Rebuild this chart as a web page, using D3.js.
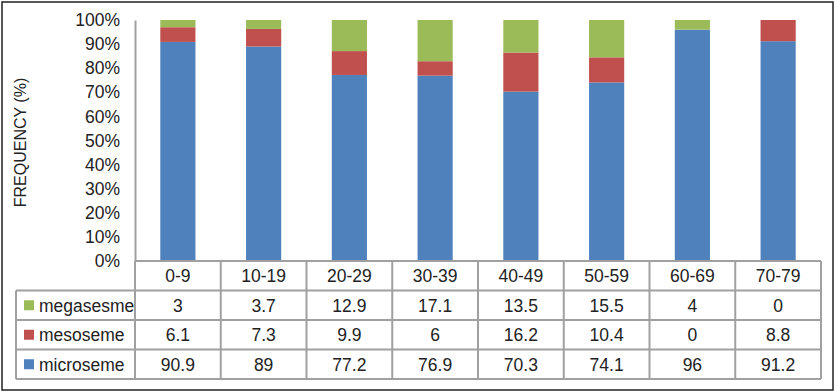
<!DOCTYPE html>
<html>
<head>
<meta charset="utf-8">
<script src="https://cdn.jsdelivr.net/npm/d3@7"></script>
<style>
    body { margin: 0; background: #fff; }
    svg { display: block; font-family: "Liberation Sans", Arial, sans-serif; }
</style>
</head>
<body>
<div id="chart"></div>
<script>
// age groups and series values (%)
var ageGroups = ["0-9", "10-19", "20-29", "30-39", "40-49", "50-59", "60-69", "70-79"];
var microseme = [90.9, 89, 77.2, 76.9, 70.3, 74.1, 96, 91.2];
var mesoseme = [6.1, 7.3, 9.9, 6, 16.2, 10.4, 0, 8.8];
var megasesme = [3, 3.7, 12.9, 17.1, 13.5, 15.5, 4, 0];
var seriesNames = ["microseme", "mesoseme", "megasesme"];
var seriesColors = ["#4f81bd", "#c0504d", "#9bbb59"];
var yTicks = [0, 10, 20, 30, 40, 50, 60, 70, 80, 90, 100];

var w = 835, h = 392;
var plotLeft = 135, plotRight = 821, plotTop = 20, plotBottom = 261;
var tableLeft = 16, rowH = 29.5;
var gridColor = "#a0a0a0";
var fs = 17.5;

var svg = d3.select("#chart").append("svg")
    .attr("width", w)
    .attr("height", h);

// outer frame
svg.append("rect")
    .attr("x", 2).attr("y", 2)
    .attr("width", w - 4).attr("height", h - 4)
    .attr("fill", "#fff")
    .attr("stroke", "#222")
    .attr("stroke-width", 1.5);

var x = d3.scaleBand()
    .domain(ageGroups)
    .range([plotLeft, plotRight])
    .paddingInner(0.59)
    .paddingOuter(0.295);

var y = d3.scaleLinear()
    .domain([0, 100])
    .range([plotBottom, plotTop]);

// build stacked data
var rows = ageGroups.map(function (g, i) {
    return { group: g, microseme: microseme[i], mesoseme: mesoseme[i], megasesme: megasesme[i] };
});
var stack = d3.stack().keys(seriesNames)(rows);

svg.append("g")
    .selectAll("g")
    .data(stack)
    .enter()
    .append("g")
    .attr("fill", function (d, i) { return seriesColors[i]; })
    .selectAll("rect")
    .data(function (d) { return d; })
    .enter()
    .append("rect")
    .attr("x", function (d) { return x(d.data.group); })
    .attr("y", function (d) { return y(d[1]); })
    .attr("width", x.bandwidth())
    .attr("height", function (d) { return y(d[0]) - y(d[1]); });

// y axis
var yAxis = svg.append("g")
    .attr("transform", "translate(" + plotLeft + ",0)")
    .call(d3.axisLeft(y)
        .tickValues(yTicks)
        .tickSize(0)
        .tickPadding(15)
        .tickFormat(function (d) { return d + "%"; }));
yAxis.select(".domain").attr("stroke", gridColor).attr("stroke-width", 2);
yAxis.selectAll("text")
    .attr("font-size", fs)
    .attr("fill", "#222")
    .attr("font-family", "Liberation Sans, Arial, sans-serif");

// y axis title
svg.append("text")
    .attr("transform", "translate(26," + ((plotTop + plotBottom) / 2 + 2) + ") rotate(-90)")
    .attr("text-anchor", "middle")
    .attr("font-size", 16)
    .attr("fill", "#222")
    .text("FREQUENCY (%)");

// data table
var table = svg.append("g");
var tableRows = [
    { name: "megasesme", values: megasesme, color: seriesColors[2] },
    { name: "mesoseme", values: mesoseme, color: seriesColors[1] },
    { name: "microseme", values: microseme, color: seriesColors[0] }
];
var tableBottom = plotBottom + rowH * 4;
var step = x.step();
var colEdges = ageGroups.map(function (g) { return x(g) - (step - x.bandwidth()) / 2; });
colEdges.push(plotRight);

// horizontal lines
[0, 1, 2, 3, 4].forEach(function (r) {
    table.append("line")
        .attr("x1", r === 0 ? plotLeft : tableLeft)
        .attr("x2", plotRight)
        .attr("y1", plotBottom + r * rowH)
        .attr("y2", plotBottom + r * rowH)
        .attr("stroke", gridColor)
        .attr("stroke-width", 2);
});
// vertical lines
table.append("line")
    .attr("x1", tableLeft).attr("x2", tableLeft)
    .attr("y1", plotBottom + rowH).attr("y2", tableBottom)
    .attr("stroke", gridColor).attr("stroke-width", 2);
colEdges.forEach(function (cx) {
    table.append("line")
        .attr("x1", cx).attr("x2", cx)
        .attr("y1", plotBottom).attr("y2", tableBottom)
        .attr("stroke", gridColor).attr("stroke-width", 2);
});

// header labels
table.selectAll(".hdr")
    .data(ageGroups)
    .enter()
    .append("text")
    .attr("class", "hdr")
    .attr("x", function (d) { return x(d) + x.bandwidth() / 2; })
    .attr("y", plotBottom + rowH / 2)
    .attr("dy", "0.36em")
    .attr("text-anchor", "middle")
    .attr("font-size", fs)
    .attr("fill", "#222")
    .text(function (d) { return d; });

tableRows.forEach(function (row, r) {
    var cy = plotBottom + rowH * (r + 1) + rowH / 2;
    table.append("rect")
        .attr("x", 24).attr("y", cy - 5)
        .attr("width", 10).attr("height", 10)
        .attr("fill", row.color);
    table.append("text")
        .attr("x", 39).attr("y", cy)
        .attr("dy", "0.36em")
        .attr("font-size", fs)
        .attr("fill", "#222")
        .text(row.name);
    table.selectAll(".v" + r)
        .data(row.values)
        .enter()
        .append("text")
        .attr("x", function (d, i) { return x(ageGroups[i]) + x.bandwidth() / 2; })
        .attr("y", cy)
        .attr("dy", "0.36em")
        .attr("text-anchor", "middle")
        .attr("font-size", fs)
        .attr("fill", "#222")
        .text(function (d) { return d; });
});
</script>
</body>
</html>
